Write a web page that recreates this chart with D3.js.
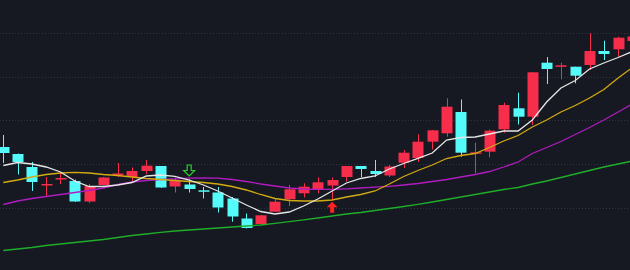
<!DOCTYPE html>
<html>
<head>
<meta charset="utf-8">
<script src="https://cdn.jsdelivr.net/npm/d3@7"></script>
<style>
  html, body { margin: 0; padding: 0; background: #161921; }
  svg { display: block; }
</style>
</head>
<body>
<svg id="chart"></svg>
<script>
// daily bars (price units)
const opens  = [11.53, 11.46, 11.33, 11.15, 11.21, 11.19, 10.985, 11.15, 11.25, 11.23, 11.29, 11.34, 11.135, 11.155, 11.097, 11.075, 11.015, 10.815, 10.76, 10.883, 11.007, 11.067, 11.10, 11.145, 11.23, 11.34, 11.29, 11.245, 11.373, 11.42, 11.583, 11.667, 11.88, 11.47, 11.483, 11.707, 11.917, 11.833, 12.373, 12.337, 12.333, 12.35, 12.49, 12.507, 12.59];
const highs  = [11.65, 11.465, 11.38, 11.23, 11.275, 11.205, 11.16, 11.23, 11.37, 11.325, 11.40, 11.34, 11.225, 11.205, 11.13, 11.13, 11.03, 10.865, 10.85, 11.017, 11.15, 11.167, 11.227, 11.225, 11.34, 11.34, 11.40, 11.35, 11.50, 11.657, 11.70, 12.017, 12.005, 11.573, 11.705, 11.973, 12.073, 12.28, 12.43, 12.373, 12.333, 12.667, 12.593, 12.633, 12.65];
const lows   = [11.37, 11.255, 11.09, 11.03, 11.16, 10.98, 10.97, 11.145, 11.23, 11.19, 11.26, 11.12, 11.075, 11.075, 11.015, 10.875, 10.783, 10.715, 10.755, 10.88, 10.94, 11.025, 11.067, 11.00, 11.183, 11.23, 11.23, 11.23, 11.32, 11.38, 11.505, 11.633, 11.433, 11.27, 11.427, 11.673, 11.755, 11.75, 12.16, 12.207, 12.167, 12.30, 12.40, 12.433, 12.58];
const closes = [11.47, 11.38, 11.18, 11.16, 11.22, 10.985, 11.14, 11.225, 11.265, 11.29, 11.343, 11.125, 11.19, 11.11, 11.09, 10.925, 10.835, 10.72, 10.847, 10.983, 11.107, 11.133, 11.177, 11.20, 11.34, 11.31, 11.26, 11.335, 11.473, 11.583, 11.697, 11.933, 11.473, 11.477, 11.693, 11.95, 11.833, 12.277, 12.31, 12.347, 12.243, 12.49, 12.46, 12.623, 12.635];

// moving averages as drawn
const ma5  = [11.345, 11.375, 11.36, 11.33, 11.28, 11.19, 11.135, 11.135, 11.15, 11.175, 11.24, 11.25, 11.237, 11.20, 11.15, 11.09, 11.02, 10.95, 10.885, 10.86, 10.88, 10.94, 11.01, 11.09, 11.17, 11.215, 11.24, 11.31, 11.365, 11.417, 11.47, 11.60, 11.625, 11.63, 11.66, 11.69, 11.69, 11.80, 11.98, 12.12, 12.195, 12.31, 12.37, 12.425, 12.485];
const ma10 = [11.175, 11.20, 11.23, 11.255, 11.27, 11.277, 11.27, 11.255, 11.245, 11.23, 11.215, 11.205, 11.195, 11.185, 11.175, 11.16, 11.135, 11.10, 11.055, 11.015, 10.995, 10.99, 10.99, 11.00, 11.03, 11.055, 11.09, 11.16, 11.235, 11.295, 11.35, 11.415, 11.445, 11.465, 11.525, 11.59, 11.645, 11.73, 11.80, 11.88, 11.945, 12.02, 12.105, 12.22, 12.325];
const ma20 = [10.955, 10.99, 11.015, 11.035, 11.055, 11.075, 11.095, 11.12, 11.155, 11.18, 11.195, 11.205, 11.212, 11.218, 11.22, 11.218, 11.205, 11.185, 11.16, 11.14, 11.12, 11.11, 11.107, 11.107, 11.112, 11.12, 11.128, 11.137, 11.15, 11.165, 11.185, 11.205, 11.23, 11.255, 11.285, 11.33, 11.38, 11.465, 11.525, 11.585, 11.655, 11.725, 11.80, 11.88, 11.96];
const ma60 = [10.495, 10.51, 10.525, 10.545, 10.56, 10.575, 10.59, 10.605, 10.625, 10.645, 10.66, 10.677, 10.69, 10.70, 10.71, 10.72, 10.73, 10.74, 10.75, 10.767, 10.783, 10.802, 10.82, 10.84, 10.86, 10.875, 10.895, 10.915, 10.935, 10.957, 10.98, 11.005, 11.03, 11.055, 11.08, 11.105, 11.125, 11.16, 11.19, 11.225, 11.26, 11.295, 11.33, 11.36, 11.39];

const gridLevels = [12.67, 12.23, 11.80, 11.36, 10.92];
const buySignals = [23];
const sellSignals = [13];

const width = 630, height = 270;
const upColor = "#f72d4c", downColor = "#55fbfb";

const svg = d3.select("#chart")
    .attr("width", width)
    .attr("height", height);

svg.append("rect")
    .attr("width", width)
    .attr("height", height)
    .attr("fill", "#161921");

const x = d3.scaleLinear().domain([-0.23, 43.83]).range([0, width]);
const y = d3.scaleLinear().domain([10.30, 13.00]).range([height, 0]);
const bodyW = 11;

// dotted horizontal grid
svg.selectAll("line.grid")
    .data(gridLevels)
    .enter()
    .append("line")
    .attr("class", "grid")
    .attr("x1", 0)
    .attr("x2", width)
    .attr("y1", d => Math.round(y(d)) + 0.5)
    .attr("y2", d => Math.round(y(d)) + 0.5)
    .attr("stroke", "#30343e")
    .attr("stroke-dasharray", "1,2");

const bars = opens.map((o, i) => ({ i, o, h: highs[i], l: lows[i], c: closes[i] }));

const candle = svg.selectAll("g.candle")
    .data(bars)
    .enter()
    .append("g")
    .attr("class", "candle");

candle.append("line")
    .attr("x1", d => Math.round(x(d.i)) + 0.5)
    .attr("x2", d => Math.round(x(d.i)) + 0.5)
    .attr("y1", d => y(d.h))
    .attr("y2", d => y(d.l))
    .attr("stroke", d => d.c >= d.o ? upColor : downColor)
    .attr("stroke-width", 1);

candle.append("rect")
    .attr("x", d => Math.round(x(d.i) - bodyW / 2) + 0.5)
    .attr("width", bodyW)
    .attr("y", d => y(Math.max(d.o, d.c)))
    .attr("height", d => Math.max(1.5, Math.abs(y(d.o) - y(d.c))))
    .attr("fill", d => d.c >= d.o ? upColor : downColor);

// moving average lines on top of the bars
const maLine = d3.line()
    .x((d, i) => x(i))
    .y(d => y(d));

const series = [
    { values: ma60, color: "#1fae2a" },
    { values: ma20, color: "#b01cc0" },
    { values: ma10, color: "#d2aa12" },
    { values: ma5,  color: "#e6e6e6" }
];

svg.selectAll("path.ma")
    .data(series)
    .enter()
    .append("path")
    .attr("class", "ma")
    .attr("d", d => maLine(d.values))
    .attr("fill", "none")
    .attr("stroke", d => d.color)
    .attr("stroke-width", 1.3);

// signal arrows
svg.selectAll("path.sell")
    .data(sellSignals)
    .enter()
    .append("path")
    .attr("class", "sell")
    .attr("d", i => {
        const cx = x(i), t = y(highs[i]) - 3.5;
        return `M${cx - 2},${t - 11}H${cx + 2}V${t - 5.5}H${cx + 5.5}L${cx},${t}L${cx - 5.5},${t - 5.5}H${cx - 2}Z`;
    })
    .attr("fill", "none")
    .attr("stroke", "#2ccf2c")
    .attr("stroke-width", 1.2);

svg.selectAll("path.buy")
    .data(buySignals)
    .enter()
    .append("path")
    .attr("class", "buy")
    .attr("d", i => {
        const cx = x(i), t = y(lows[i]) + 1.7;
        return `M${cx},${t}L${cx + 5.5},${t + 5.5}H${cx + 2}V${t + 11}H${cx - 2}V${t + 5.5}H${cx - 5.5}Z`;
    })
    .attr("fill", "#ff2222");
</script>
</body>
</html>
